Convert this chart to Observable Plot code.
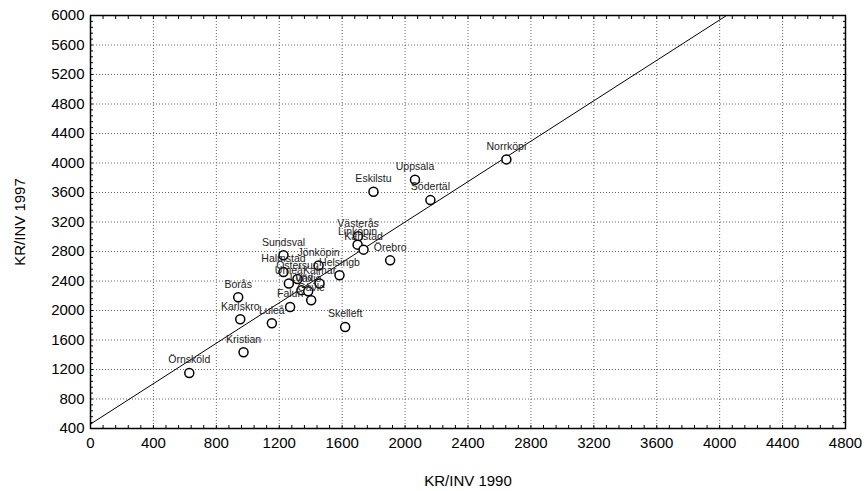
<!DOCTYPE html>
<html>
<head>
<meta charset="utf-8">
<script src="https://cdn.jsdelivr.net/npm/d3@7"></script>
<script src="https://cdn.jsdelivr.net/npm/@observablehq/plot@0.6"></script>
<style>
  html, body { margin: 0; padding: 0; background: #fff; }
  #chart { width: 865px; height: 491px; }
</style>
</head>
<body>
<div id="chart"></div>
<script>
// City labels (truncated as in the source)
const cities = ["Örnsköld","Kristian","Karlskro","Luleå","Borås","Falun","Umeå","Halmstad","Sundsval","Östersun","Jönköpin","Kalmar","Helsingb","Lund","Växjö","Gävle","Skelleft","Västerås","Linköpin","Karlstad","Örebro","Eskilstu","Uppsala","Södertäl","Norrköpi"];
// KR/INV 1990
const kr1990 = [628, 973, 952, 1153, 939, 1269, 1261, 1227, 1227, 1316, 1450, 1456, 1583, 1341, 1384, 1403, 1619, 1701, 1698, 1736, 1905, 1799, 2063, 2161, 2644];
// KR/INV 1997
const kr1997 = [1153, 1434, 1881, 1827, 2179, 2048, 2365, 2522, 2748, 2427, 2609, 2365, 2477, 2276, 2262, 2138, 1777, 3006, 2893, 2825, 2680, 3611, 3774, 3497, 4049];
// Fitted line (intercept, slope) and its x extent
const fitIntercept = 460;
const fitSlope = 1.37;
const fitX = [0, 4800];
// Tick values
const xTicks = d3.range(0, 4801, 400);
const yTicks = d3.range(400, 6001, 400);
const xMinor = d3.range(0, 4801, 80);
const yMinor = d3.range(400, 6001, 80);

const points = cities.map((c, i) => ({city: c, x: kr1990[i], y: kr1997[i]}));
const fitLine = fitX.map(x => ({x, y: fitIntercept + fitSlope * x}));

const font = "'Liberation Sans', Arial, sans-serif";
const plain = d => String(d);

const chart = Plot.plot({
  width: 865,
  height: 491,
  marginLeft: 90,
  marginRight: 20,
  marginTop: 15,
  marginBottom: 63,
  style: {fontFamily: font, fontSize: "15px", color: "#000", background: "#fff"},
  x: {domain: [0, 4800], ticks: xTicks},
  y: {domain: [400, 6000], ticks: yTicks},
  marks: [
    Plot.gridX(xTicks.slice(1, -1), {stroke: "#666", strokeOpacity: 1, strokeDasharray: "1,2"}),
    Plot.gridY(yTicks.slice(1, -1), {stroke: "#666", strokeOpacity: 1, strokeDasharray: "1,2"}),
    Plot.line(fitLine, {x: "x", y: "y", stroke: "#000", strokeWidth: 1, clip: true}),
    // minor ticks, inward
    Plot.axisX(xMinor, {anchor: "bottom", tickSize: -3, text: null, label: null}),
    Plot.axisX(xMinor, {anchor: "top", tickSize: -3, text: null, label: null}),
    Plot.axisY(yMinor, {anchor: "left", tickSize: -3, text: null, label: null}),
    Plot.axisY(yMinor, {anchor: "right", tickSize: -3, text: null, label: null}),
    Plot.axisX(xTicks, {anchor: "bottom", tickSize: 0, tickPadding: 9, fontSize: 15, tickFormat: plain,
      label: "KR/INV 1990", labelAnchor: "center", labelArrow: "none", labelOffset: 57}),
    Plot.axisY(yTicks, {anchor: "left", tickSize: 0, tickPadding: 6, fontSize: 15, tickFormat: plain,
      label: "KR/INV 1997", labelAnchor: "center", labelArrow: "none", labelOffset: 76}),
    Plot.frame({stroke: "#000", strokeWidth: 1.5}),
    Plot.dot(points, {x: "x", y: "y", r: 4.5, stroke: "#000", strokeWidth: 1.5, fill: "#fff"}),
    Plot.text(points, {x: "x", y: "y", text: "city", dy: -13, fontSize: 10.5, fill: "#222", textAnchor: "middle"})
  ]
});
document.getElementById("chart").appendChild(chart);
</script>
</body>
</html>
